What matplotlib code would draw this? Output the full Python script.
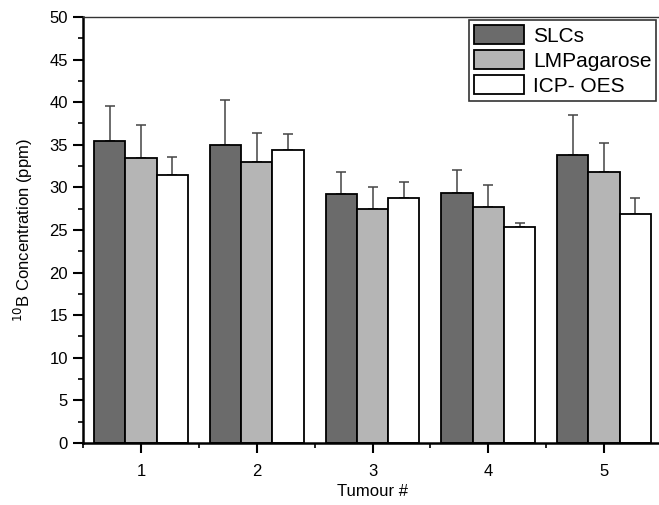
import numpy as np
import matplotlib
matplotlib.use("Agg")
import matplotlib.pyplot as plt
from matplotlib.ticker import MultipleLocator

plt.rcParams['font.family'] = ['Liberation Sans', 'DejaVu Sans']

# data
tumours = [1, 2, 3, 4, 5]
series = ['SLCs', 'LMPagarose', 'ICP- OES']
slcs = [35.5, 35.0, 29.2, 29.3, 33.8]
slcs_err = [4.1, 5.2, 2.6, 2.7, 4.7]
lmp = [33.5, 33.0, 27.5, 27.7, 31.8]
lmp_err = [3.8, 3.4, 2.5, 2.6, 3.4]
icp = [31.4, 34.4, 28.8, 25.4, 26.9]
icp_err = [2.2, 1.9, 1.8, 0.4, 1.9]

colors = ['#6b6b6b', '#b5b5b5', '#ffffff']
width = 0.27

fig = plt.figure(figsize=(6.59, 5.05), dpi=100)
ax = fig.add_axes([0.126, 0.1228, 0.8786, 0.8436])

x = np.array(tumours)
vals = [slcs, lmp, icp]
errs = [slcs_err, lmp_err, icp_err]
for i in range(3):
    ax.bar(x + (i - 1) * width, vals[i], width, color=colors[i],
           edgecolor='black', linewidth=1.3, label=series[i], zorder=2)
    ax.errorbar(x + (i - 1) * width, vals[i], yerr=[np.zeros(5), errs[i]],
                fmt='none', ecolor='#444444', elinewidth=1.1, capsize=3.5,
                capthick=1.1, zorder=1)

ax.set_xlim(0.5, 5.5)
ax.set_ylim(0, 50)
ax.set_xticks(tumours)
ax.xaxis.set_minor_locator(MultipleLocator(0.5))
ax.yaxis.set_major_locator(MultipleLocator(5))
ax.yaxis.set_minor_locator(MultipleLocator(2.5))
ax.tick_params(which='major', direction='out', length=7, width=1.5,
               labelsize=12, pad=4)
ax.tick_params(which='minor', direction='out', length=3.5, width=1.2)
ax.tick_params(axis='x', which='major', pad=8)

ax.spines['right'].set_visible(False)
ax.spines['left'].set_linewidth(1.8)
ax.spines['bottom'].set_linewidth(1.8)
ax.spines['top'].set_linewidth(1.0)
ax.spines['top'].set_color('#333333')

ax.set_xlabel('Tumour #', fontsize=12, labelpad=4)
ax.set_ylabel('$^{10}$B Concentration (ppm)', fontsize=12, labelpad=10)

leg = ax.legend(loc='upper left', bbox_to_anchor=(0.667, 0.993), fontsize=15,
                frameon=True, fancybox=False, edgecolor='black',
                handlelength=2.4, handleheight=1.05, handletextpad=0.4,
                borderpad=0.25, labelspacing=0.2, borderaxespad=0)
leg.get_frame().set_linewidth(1.2)

fig.savefig('out.png', dpi=100)
